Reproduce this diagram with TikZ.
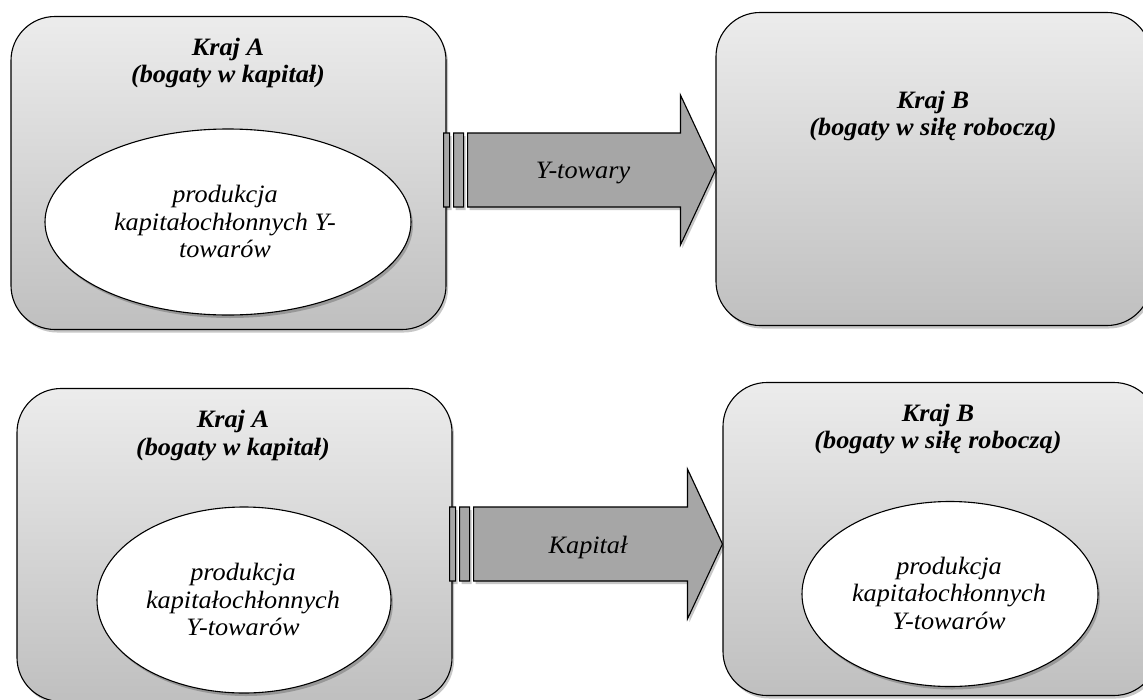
\documentclass[tikz,border=0pt]{standalone}
\usepackage{fontspec}
\setmainfont{Liberation Serif}[FakeStretch=1.05]
\usetikzlibrary{calc,shadows,shapes.geometric}

\tikzset{
  softshadow/.style={drop shadow={shadow xshift=2pt, shadow yshift=-3pt, opacity=0.22, fill=black}},
  country/.style={draw=black, line width=1.1pt, rounded corners=44pt,
    minimum width=435pt, minimum height=313pt, inner sep=0pt,
    top color=gray!15, bottom color=gray!50, softshadow},
  prod/.style={ellipse, draw=black, line width=1.1pt, fill=white,
    inner sep=0pt, softshadow},
  title/.style={font=\fontsize{25}{27.5}\selectfont\bfseries\itshape,
    align=center, inner sep=0pt},
  body/.style={font=\fontsize{25}{27.5}\selectfont\itshape,
    align=center, inner sep=0pt},
  stripe/.style={draw=black, line width=1.1pt, fill=gray!70, softshadow},
}

\begin{document}
\begin{tikzpicture}[x=1pt, y=-1pt]
  \useasboundingbox (0,0) rectangle (1143,699);
  \fill[white] (0,0) rectangle (1143,699);
  \clip (0,0) rectangle (1143,699);

  % upper row: trade in goods
  \node[country] (tA) at (228.5,173) {};
  \node[country] (tB) at (933.5,169) {};
  \node[prod, minimum width=366pt, minimum height=186pt] (tAe) at (228,222) {};

  % lower row: movement of capital
  \node[country] (bA) at (234.5,545) {};
  \node[country] (bB) at (940.5,539) {};
  \node[prod, minimum width=294pt, minimum height=186pt] (bAe) at (244,600) {};
  \node[prod, minimum width=296pt, minimum height=185pt] (bBe) at (950,594) {};

  % end points of the striped arrows
  \coordinate (s1) at ($(tA.east |- 0,170)+(-3,0)$);
  \coordinate (e1) at (tB.west |- 0,170);
  \coordinate (s2) at ($(bA.east |- 0,544)+(-3,0)$);
  \coordinate (e2) at (bB.west |- 0,544);

  \draw[stripe] let \p1=(s1), \p2=(e1) in
    (\x1,\y1-37) rectangle (\x1+6,\y1+37)
    (\x1+10,\y1-37) rectangle (\x1+20,\y1+37)
    (\x1+24,\y1+37) -- (\x2-35,\y1+37) -- (\x2-35,\y1+75) -- (\x2,\y1)
    -- (\x2-35,\y1-75) -- (\x2-35,\y1-37) -- (\x1+24,\y1-37) -- cycle;
  \draw[stripe] let \p1=(s2), \p2=(e2) in
    (\x1,\y1-37) rectangle (\x1+6,\y1+37)
    (\x1+10,\y1-37) rectangle (\x1+20,\y1+37)
    (\x1+24,\y1+37) -- (\x2-35,\y1+37) -- (\x2-35,\y1+75) -- (\x2,\y1)
    -- (\x2-35,\y1-75) -- (\x2-35,\y1-37) -- (\x1+24,\y1-37) -- cycle;

  % texts
  \node[title] (tAt) at (228,63) {Kraj A\\(bogaty w kapitał)};
  \node[body] (tAp) at (225,221.5) {produkcja\\kapitałochłonnych Y-\\towarów};
  \node[title] (tBt) at (933,116) {Kraj B\\(bogaty w siłę roboczą)};
  \node[body] (l1) at (583,173.5) {Y-towary};

  \node[title] (bAt) at (233,435.5) {Kraj A\\(bogaty w kapitał)};
  \node[body] (bAp) at (243,599.5) {produkcja\\kapitałochłonnych\\Y-towarów};
  \node[title] (bBt) at (938,429) {Kraj B\\(bogaty w siłę roboczą)};
  \node[body] (bBp) at (949,593) {produkcja\\kapitałochłonnych\\Y-towarów};
  \node[body] (l2) at (588,547.5) {Kapitał};
\end{tikzpicture}
\end{document}
